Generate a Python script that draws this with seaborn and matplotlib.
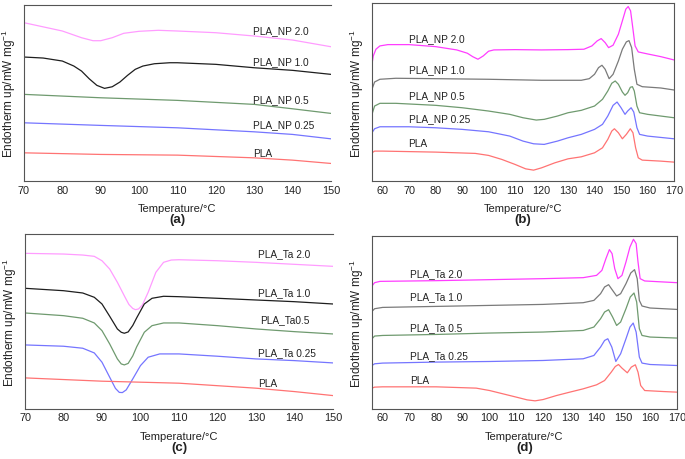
import numpy as np
import pandas as pd
import matplotlib
matplotlib.use("Agg")
import matplotlib.pyplot as plt
import seaborn as sns

# ---- panel (a): PLA_NP, first heating ----
a_np20_t = [70, 80, 85, 88, 90, 93, 96, 100, 105, 110, 120, 130, 140, 150]
a_np20_y = [158.3, 150, 143.3, 140.3, 140.3, 143.3, 147.7, 149.7, 150.7, 150, 148.3, 145, 141, 134.3]
a_np10_t = [70, 75, 80, 83, 85, 87, 89, 91, 93, 95, 97, 99, 101, 104, 108, 110, 120, 130, 140, 150]
a_np10_y = [124, 123, 120, 115, 110, 102.3, 95.7, 92.7, 94.3, 99, 105.7, 111.7, 115, 117.3, 118.3,
            118.3, 116.7, 113.3, 110.7, 106.7]
a_np05_t = [70, 90, 110, 130, 140, 150]
a_np05_y = [86.7, 83.3, 80.7, 76.7, 72.3, 67.7]
a_np025_t = [70, 90, 110, 130, 140, 150]
a_np025_y = [58.3, 55.7, 53.3, 49.3, 46.7, 42.3]
a_pla_t = [70, 90, 110, 130, 140, 150]
a_pla_y = [28.3, 26.7, 26, 23.3, 21, 17.7]

# ---- panel (b): PLA_NP, second heating ----
b_np20_t = [56, 56.5, 57.5, 59, 62, 70, 80, 88, 92, 94, 96, 98, 100, 102, 110, 120, 130, 136, 139,
            141, 142.5, 144, 145.3, 147, 149, 150.5, 151.8, 152.7, 153.6, 154.5, 155.3, 156.5, 160, 165, 170]
b_np20_y = [116.7, 125, 131.7, 135, 136.3, 136.3, 134.3, 131, 127.7, 124.3, 121.7, 125, 129.7, 131,
            131.3, 131, 131.3, 131.7, 135, 140, 142.3, 138.3, 133.3, 135.7, 146.7, 160, 171.7, 174.3,
            170, 151.7, 135, 129, 127, 124.3, 121]
b_np10_t = [56, 57, 59, 65, 80, 100, 120, 135, 138, 140, 141.5, 142.8, 144, 145.5, 147, 149, 150.5,
            152, 153, 154, 155, 156, 158, 165, 170]
b_np10_y = [91.7, 99, 101.7, 102.7, 102.3, 101.7, 100.7, 100.7, 102.3, 106.7, 113.3, 115.7, 111.7,
            102.3, 106.7, 120, 131.7, 139, 140.3, 133.3, 111.7, 96.7, 94.3, 93, 91]
b_np05_t = [56, 57, 59, 65, 80, 90, 100, 108, 113, 118, 121, 126, 130, 135, 140, 143, 145, 146.5,
            147.8, 149, 150.5, 151.5, 152.5, 153.5, 154.3, 155, 156, 157, 160, 170]
b_np05_y = [66.7, 75, 77.7, 77.7, 75.7, 73.3, 70, 66.7, 63.3, 61, 61.7, 65, 68.3, 70.7, 75, 81.7, 90,
            97.7, 100, 96.7, 89, 85.7, 88.3, 93.7, 94.3, 90, 75, 68.3, 66.7, 63.3]
b_np025_t = [56, 57, 59, 70, 80, 90, 100, 108, 113, 117, 121, 126, 130, 135, 140, 143, 145, 147,
             148.5, 150, 151.5, 152.5, 153.8, 154.8, 156, 157, 160, 170]
b_np025_y = [48.3, 52.3, 54.3, 54.3, 53.3, 51.7, 49.3, 45, 40, 37.3, 36.7, 40, 43.3, 46.7, 51.7, 56.7,
             65, 75.7, 79, 73.3, 66.7, 70, 73.3, 69, 53.3, 46.7, 45, 42.3]
b_pla_t = [56, 57, 60, 80, 95, 100, 105, 110, 114, 117, 120, 125, 130, 135, 140, 143, 145, 146.5,
           147.5, 149, 150.5, 152, 153.5, 154.5, 155.5, 156.5, 158, 165, 170]
b_pla_y = [28.3, 30, 30, 29, 27.7, 25.7, 21.7, 16.7, 12.3, 11, 13.3, 18.3, 22.3, 24.3, 28.3, 33.3,
           41.7, 50, 52.3, 48.3, 42.3, 46.7, 52.3, 48.3, 33.3, 23.3, 21, 20, 19]

# ---- panel (c): PLA_Ta, first heating ----
c_ta20_t = [70, 80, 85, 88, 90, 92, 94, 96, 97, 98, 98.7, 99.5, 100.5, 102, 104, 106, 108, 110, 120,
            130, 140, 150]
c_ta20_y = [155.7, 155, 154, 152.7, 148.3, 140, 126.7, 111.7, 104.5, 100.5, 99.3, 100, 104, 116.7,
            136.7, 146.7, 149, 149.3, 148.3, 146.7, 144.7, 142.7]
c_ta10_t = [70, 80, 85, 88, 90, 92, 94, 95, 95.8, 96.8, 98, 99, 101, 103, 106, 110, 120, 130, 140, 150]
c_ta10_y = [120.7, 118.3, 116, 111.7, 105, 92.7, 80, 76.7, 75.7, 77, 83.5, 91, 105, 110.7, 112.7,
            112.3, 110.7, 109, 107.3, 105]
c_ta05_t = [70, 80, 85, 88, 90, 92, 94, 95, 95.8, 96.8, 98, 99, 101, 103, 106, 110, 120, 130, 140, 150]
c_ta05_y = [96, 93.3, 90.7, 86, 78.3, 65, 50, 45, 44, 45.5, 53, 62, 76.7, 83.3, 86, 86, 83.3, 80, 77.3, 75]
c_ta025_t = [70, 80, 85, 88, 90, 92, 93.5, 94.5, 95.3, 96.3, 98, 100, 102, 105, 110, 120, 130, 140, 150]
c_ta025_y = [64, 62.7, 60.7, 56, 46.7, 31.7, 20.5, 16.5, 16.3, 19, 30, 43.3, 51.7, 55, 55, 52.7, 50, 48.3, 46]
c_pla_t = [70, 90, 110, 130, 140, 150]
c_pla_y = [31, 27.7, 25.7, 20.7, 17.3, 13.3]

# ---- panel (d): PLA_Ta, second heating ----
d_ta20_t = [56, 57, 59, 80, 100, 120, 135, 140, 142, 143.5, 144.8, 145.8, 146.8, 148, 149.5, 151,
            152.5, 153.8, 154.8, 155.5, 156.3, 158, 165, 170]
d_ta20_y = [122.7, 126, 127.3, 128, 129, 130, 131, 133.3, 138.3, 150, 159, 155, 140, 130, 133.3,
            146.7, 161.7, 169.3, 165, 146.7, 130, 127.7, 126.7, 126]
d_ta10_t = [56, 57, 60, 80, 100, 120, 135, 139, 141.5, 143, 144.5, 146, 147.5, 149, 151, 152.8,
            154.2, 155.2, 156, 157, 160, 170]
d_ta10_y = [97.3, 100, 101.3, 102.3, 103.3, 104.3, 106, 108.3, 115, 121.7, 124, 118.3, 112.7, 115,
            125, 135.7, 139, 130, 108.3, 102.7, 100.7, 99.3]
d_ta05_t = [56, 57, 60, 80, 100, 120, 135, 139, 141.5, 143, 144.5, 146, 147.5, 149, 151, 152.6,
            154, 155, 156, 157, 160, 170]
d_ta05_y = [70, 72.7, 73.3, 74.3, 75.7, 76.7, 78.3, 81.7, 90, 96.7, 99, 91.7, 83.3, 86.7, 100,
            111.7, 115.7, 106.7, 80, 73.3, 71.7, 70.7]
d_ta025_t = [56, 57, 60, 80, 100, 120, 135, 139, 141.5, 143, 144.2, 145.7, 147.2, 149, 151, 152.5,
             153.7, 154.8, 156, 157, 160, 170]
d_ta025_y = [43.3, 45, 45.7, 46.7, 47.3, 48.3, 50, 53.3, 61.7, 68.3, 70, 61.7, 47.3, 55, 70, 81.7,
             85.7, 76.7, 51.7, 45.7, 44.3, 43.3]
d_pla_t = [56, 57, 60, 80, 95, 100, 105, 110, 114, 117, 120, 125, 130, 135, 140, 143, 145.5, 147,
           148.2, 149.5, 151.5, 153, 154.5, 155.5, 156.5, 158, 165, 170]
d_pla_y = [20.7, 21.7, 22, 22, 20.7, 18.3, 15, 11.7, 9, 8, 9.3, 13.3, 16.7, 20, 24, 28.3, 36.7, 42.3,
           44.3, 40.7, 36, 41.7, 44, 36.7, 23.3, 18.3, 17.3, 16.7]

np_names = ["PLA_NP 2.0", "PLA_NP 1.0", "PLA_NP 0.5", "PLA_NP 0.25", "PLA"]
ta_names_c = ["PLA_Ta 2.0", "PLA_Ta 1.0", "PLA_Ta0.5", "PLA_Ta 0.25", "PLA"]
ta_names_d = ["PLA_Ta 2.0", "PLA_Ta 1.0", "PLA_Ta 0.5", "PLA_Ta 0.25", "PLA"]

# label anchor (x in degC, y in curve units) for each panel
a_label_x = 129.8
a_label_y = [150.7, 120, 82.3, 57.3, 28.3]
b_label_x = 69.8
b_label_y = [142.7, 111.7, 85.7, 62.7, 37.7]
c_label_x = [130.6, 130.6, 131.0, 130.6, 130.6]
c_label_y = [155.7, 117.3, 90, 57.3, 26]
d_label_x = 70.4
d_label_y = [135.7, 112.7, 81.3, 53.3, 29]

colors_first = ["#ff9cff", "#1e1e1e", "#6f9a6f", "#7575ff", "#ff7373"]
colors_second = ["#ff3dff", "#7a7a7a", "#6f9a6f", "#7575ff", "#ff7373"]

sns.set_theme(style="white")
plt.rcParams["font.family"] = ["Liberation Sans", "DejaVu Sans"]
plt.rcParams["mathtext.fontset"] = "custom"
plt.rcParams["mathtext.rm"] = "Liberation Sans"

fig = plt.figure(figsize=(6.85, 4.6), dpi=100)
ax_a = fig.add_axes([0.035, 0.604, 0.448, 0.383])
ax_b = fig.add_axes([0.543, 0.604, 0.441, 0.387])
ax_c = fig.add_axes([0.0365, 0.109, 0.4495, 0.38])
ax_d = fig.add_axes([0.543, 0.109, 0.445, 0.376])

panels = [
    (ax_a, [(a_np20_t, a_np20_y), (a_np10_t, a_np10_y), (a_np05_t, a_np05_y), (a_np025_t, a_np025_y),
            (a_pla_t, a_pla_y)], np_names, colors_first, a_label_x, a_label_y,
     (70, 150), (0, 176), np.arange(70, 151, 10), False, "(a)"),
    (ax_b, [(b_np20_t, b_np20_y), (b_np10_t, b_np10_y), (b_np05_t, b_np05_y), (b_np025_t, b_np025_y),
            (b_pla_t, b_pla_y)], np_names, colors_second, b_label_x, b_label_y,
     (56, 170), (0, 177.7), np.arange(60, 171, 10), True, "(b)"),
    (ax_c, [(c_ta20_t, c_ta20_y), (c_ta10_t, c_ta10_y), (c_ta05_t, c_ta05_y), (c_ta025_t, c_ta025_y),
            (c_pla_t, c_pla_y)], ta_names_c, colors_first, c_label_x, c_label_y,
     (70, 150), (0, 175), np.arange(70, 151, 10), False, "(c)"),
    (ax_d, [(d_ta20_t, d_ta20_y), (d_ta10_t, d_ta10_y), (d_ta05_t, d_ta05_y), (d_ta025_t, d_ta025_y),
            (d_pla_t, d_pla_y)], ta_names_d, colors_second, d_label_x, d_label_y,
     (56, 170), (0, 172.7), np.arange(60, 171, 10), True, "(d)"),
]

for ax, curves, names, cols, lx, ly, xlim, ylim, xticks, boxed, tag in panels:
    for i, (t, y) in enumerate(curves):
        sns.lineplot(x=t, y=y, ax=ax, color=cols[i], linewidth=0.9, sort=False,
                     estimator=None, legend=False)
        xx = lx[i] if isinstance(lx, list) else lx
        ax.text(xx, ly[i], names[i], fontsize=7.3, va="center", ha="left", color="#222222")
    ax.set_xlim(*xlim)
    ax.set_ylim(*ylim)
    ax.set_xticks(xticks)
    ax.set_yticks([])
    ax.tick_params(axis="x", length=0, pad=2.5, labelsize=7.8, colors="#222222")
    ax.set_xlabel("Temperature/\u00b0C", fontsize=8, labelpad=6, color="#222222")
    ax.set_ylabel("Endotherm up/mW mg$^{-1}$", fontsize=8.5, labelpad=4, color="#222222")
    for side in ["left", "bottom", "top", "right"]:
        ax.spines[side].set_color("#555555")
        ax.spines[side].set_linewidth(0.8)
    if not boxed:
        ax.spines["right"].set_visible(False)
    pos = ax.get_position()
    fig.text((pos.x0 + pos.x1) / 2, pos.y0 - 0.082, tag, fontsize=9.5, fontweight="bold",
             ha="center", va="center", color="#222222")

fig.savefig("out.png", dpi=100)
